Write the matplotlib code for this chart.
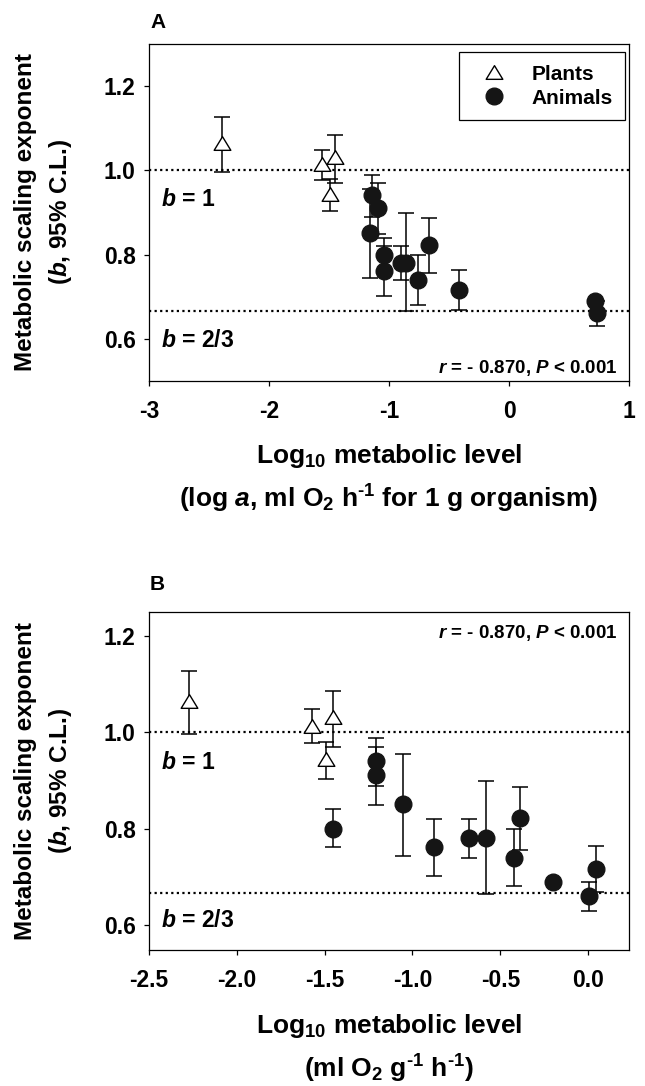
import matplotlib
matplotlib.use('Agg')
import matplotlib.pyplot as plt
from matplotlib.path import Path
from matplotlib.transforms import blended_transform_factory
import numpy as np

plt.rcParams['font.family'] = ['Liberation Sans', 'DejaVu Sans']
plt.rcParams['font.weight'] = 'bold'
plt.rcParams['mathtext.fontset'] = 'custom'
plt.rcParams['mathtext.rm'] = 'Liberation Sans:bold'
plt.rcParams['mathtext.it'] = 'Liberation Sans:italic:bold'
plt.rcParams['mathtext.bf'] = 'Liberation Sans:bold'
plt.rcParams['mathtext.bfit'] = 'Liberation Sans:italic:bold'

# scaling exponent b with 95% C.L., same taxa in both panels
plant_b = np.array([1.065, 1.014, 1.031, 0.945])
plant_lo = np.array([0.997, 0.977, 0.970, 0.904])
plant_hi = np.array([1.127, 1.048, 1.085, 0.979])
plant_x_a = [-2.39, -1.56, -1.45, -1.49]
plant_x_b = [-2.27, -1.57, -1.45, -1.49]

animal_b = np.array([0.800, 0.941, 0.911, 0.851, 0.761, 0.780, 0.780, 0.822, 0.740, 0.689, 0.661, 0.717])
animal_lo = np.array([0.761, 0.889, 0.849, 0.744, 0.701, 0.740, 0.665, 0.756, 0.680, 0.689, 0.630, 0.668])
animal_hi = np.array([0.840, 0.989, 0.969, 0.956, 0.820, 0.820, 0.898, 0.886, 0.800, 0.689, 0.690, 0.764])
animal_x_a = [-1.04, -1.14, -1.09, -1.16, -1.04, -0.90, -0.86, -0.67, -0.76, 0.72, 0.73, -0.42]
animal_x_b = [-1.45, -1.21, -1.21, -1.055, -0.88, -0.68, -0.58, -0.39, -0.42, -0.20, 0.005, 0.045]

xticks_a = [-3, -2, -1, 0, 1]
xticks_b = [-2.5, -2.0, -1.5, -1.0, -0.5, 0.0]
yticks = [0.6, 0.8, 1.0, 1.2]

W, H = 645, 1086
fig = plt.figure(figsize=(W / 100, H / 100), dpi=100)
axA = fig.add_axes([149 / W, 1 - 381 / H, 480 / W, 337 / H])
axB = fig.add_axes([149 / W, 1 - 950 / H, 480 / W, 338 / H])

# slightly flattened open triangle
tri = Path([(-1, -0.82), (1, -0.82), (0, 0.82), (-1, -0.82)],
           [Path.MOVETO, Path.LINETO, Path.LINETO, Path.CLOSEPOLY])


def draw_panel(ax, px, ax_x, xlim, ylim, xticks, xfmt, b1_y, b23_y):
    dots = (0, (1, 1.5))
    ax.axhline(1.0, color='black', ls=dots, lw=1.6, zorder=1)
    ax.axhline(2 / 3, color='black', ls=dots, lw=1.6, zorder=1)
    ax.errorbar(px, plant_b, yerr=[plant_b - plant_lo, plant_hi - plant_b], fmt='none',
                ecolor='black', elinewidth=1.1, capsize=5.5, capthick=1.1, zorder=2)
    ax.errorbar(ax_x, animal_b, yerr=[animal_b - animal_lo, animal_hi - animal_b], fmt='none',
                ecolor='black', elinewidth=1.1, capsize=5.5, capthick=1.1, zorder=2)
    ax.plot(px, plant_b, ls='none', marker=tri, ms=12, mfc='white', mec='black', mew=1.0,
            zorder=3, label='Plants')
    ax.plot(ax_x, animal_b, ls='none', marker='o', ms=12, mfc='#151515', mec='#151515',
            zorder=4, label='Animals')
    ax.set_xlim(*xlim)
    ax.set_ylim(*ylim)
    ax.set_xticks(xticks)
    ax.set_xticklabels([xfmt.format(t) for t in xticks])
    ax.set_yticks(yticks)
    ax.set_yticklabels(['{:.1f}'.format(t) for t in yticks])
    for s in ax.spines.values():
        s.set_linewidth(0.9)
    ax.tick_params(direction='out', length=3.6, width=0.9, labelsize=16.5)
    ax.tick_params(axis='x', pad=10)
    ax.tick_params(axis='y', pad=6)
    tr = blended_transform_factory(ax.transAxes, ax.transData)
    ax.text(0.024, b1_y, r'$b$ = 1', transform=tr, fontsize=16.5, va='center', ha='left')
    ax.text(0.024, b23_y, r'$b$ = 2/3', transform=tr, fontsize=16.5, va='center', ha='left')


draw_panel(axA, plant_x_a, animal_x_a, (-3, 1), (0.5, 1.3), xticks_a, '{:.0f}', 0.93, 0.595)
draw_panel(axB, plant_x_b, animal_x_b, (-2.5, 0.233), (0.548, 1.25), xticks_b, '{:.1f}', 0.937, 0.609)

axA.text(0.977, 0.039, r'$r$ = - 0.870, $P$ < 0.001', transform=axA.transAxes,
         fontsize=13.5, ha='right', va='center')
axB.text(0.977, 0.938, r'$r$ = - 0.870, $P$ < 0.001', transform=axB.transAxes,
         fontsize=13.5, ha='right', va='center')

leg = axA.legend(loc='upper right', bbox_to_anchor=(1 - 4 / 480, 1 - 8 / 337), borderaxespad=0,
                 fontsize=15, handlelength=2.2, handletextpad=0.67, borderpad=0.6,
                 labelspacing=0.25, fancybox=False, framealpha=1, edgecolor='black')
leg.get_frame().set_linewidth(0.9)

fig.text(150 / W, 1 - 22 / H, 'A', fontsize=15, ha='left', va='center')
fig.text(150 / W, 1 - 584 / H, 'B', fontsize=15, ha='left', va='center')

for yc in (212, 781):
    fig.text(26 / W, 1 - yc / H, 'Metabolic scaling exponent', rotation=90, fontsize=17.5,
             ha='center', va='center')
    fig.text(60 / W, 1 - yc / H, r'($b$, 95% C.L.)', rotation=90, fontsize=17.5,
             ha='center', va='center')

cx = 389 / W
fig.text(cx, 1 - 463 / H, r'Log$_{10}$ metabolic level', fontsize=19, ha='center', va='baseline')
fig.text(cx, 1 - 508 / H, r'(log $a$, ml O$_2$ h$^{\text{-1}}$ for 1 g organism)', fontsize=19,
         ha='center', va='baseline')
fig.text(cx, 1 - 1033 / H, r'Log$_{10}$ metabolic level', fontsize=19, ha='center', va='baseline')
fig.text(cx, 1 - 1078 / H, r'(ml O$_2$ g$^{\text{-1}}$ h$^{\text{-1}}$)', fontsize=19,
         ha='center', va='baseline')

fig.savefig('out.png', dpi=100, facecolor='white')
